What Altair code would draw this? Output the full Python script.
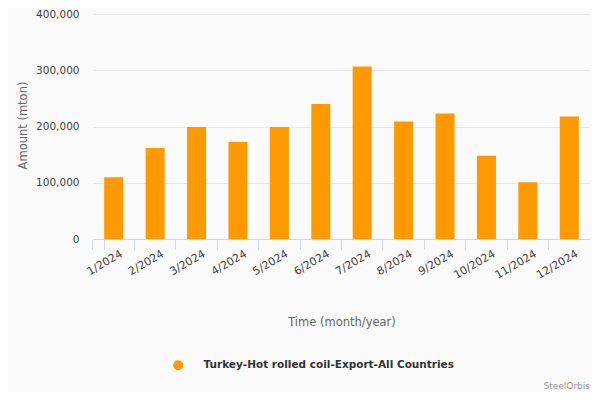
import pandas as pd
import altair as alt

# Monthly export amounts (mton)
months = ['1/2024', '2/2024', '3/2024', '4/2024', '5/2024', '6/2024',
          '7/2024', '8/2024', '9/2024', '10/2024', '11/2024', '12/2024']
amounts = [110000, 162000, 199000, 172500, 199000, 240000,
           306500, 209000, 223000, 148000, 101000, 218000]
y_ticks = [0, 100000, 200000, 300000, 400000]
series_name = 'Turkey-Hot rolled coil-Export-All Countries'

df = pd.DataFrame({'Month': months, 'Amount': amounts, 'Series': series_name})

FONT = 'DejaVu Sans'

bars = alt.Chart(df).mark_bar(color='#ff9900').encode(
    x=alt.X('Month:N', sort=months,
            scale=alt.Scale(paddingInner=0.54, paddingOuter=0.27),
            axis=alt.Axis(title='Time (month/year)', labelAngle=-30,
                          labelAlign='right', labelBaseline='middle',
                          labelPadding=4, labelOffset=8, labelFontSize=11,
                          labelColor='#444444', labelFont=FONT,
                          domainColor='#ccd6eb', tickColor='#ccd6eb',
                          tickSize=10, bandPosition=-0.587, tickExtra=True,
                          grid=False, titleFont=FONT, titleFontSize=11.5,
                          titleFontWeight='normal', titleColor='#666666',
                          titleBaseline='middle', titleY=83)),
    y=alt.Y('Amount:Q',
            scale=alt.Scale(domain=[0, 400000], nice=False),
            axis=alt.Axis(title='Amount (mton)', values=y_ticks, format=',d',
                          labelFontSize=10.5, labelColor='#444444', labelFont=FONT,
                          labelPadding=14, ticks=False, domain=False,
                          gridColor='#e6e6e6', titleFont=FONT, titleFontSize=11.5,
                          titleFontWeight='normal', titleColor='#666666',
                          titleAngle=-90, titleBaseline='middle',
                          titleX=-70, titleY=111)),
    color=alt.Color('Series:N',
                    scale=alt.Scale(domain=[series_name], range=['#ff9900']),
                    legend=alt.Legend(title=None, orient='none', legendX=80, legendY=346,
                                      symbolType='circle', symbolSize=100,
                                      symbolStrokeWidth=0, labelOffset=20,
                                      labelFont=FONT, labelFontSize=10.5,
                                      labelFontWeight='bold', labelColor='#333333',
                                      labelLimit=0, padding=0))
)

chart = bars.properties(
    width=497,
    height=225,
    autosize=alt.AutoSizeParams(type='none'),
    padding={'left': 85, 'top': 6, 'right': 2, 'bottom': 153},
    background='#fafafa',
    title=alt.TitleParams('SteelOrbis', orient='bottom', anchor='end', frame='group',
                          dy=7, font=FONT, fontSize=9, fontWeight='normal',
                          color='#999999')
).configure_view(stroke=None)

chart.save("out.html", embed_options={"renderer": "svg", "actions": False})
